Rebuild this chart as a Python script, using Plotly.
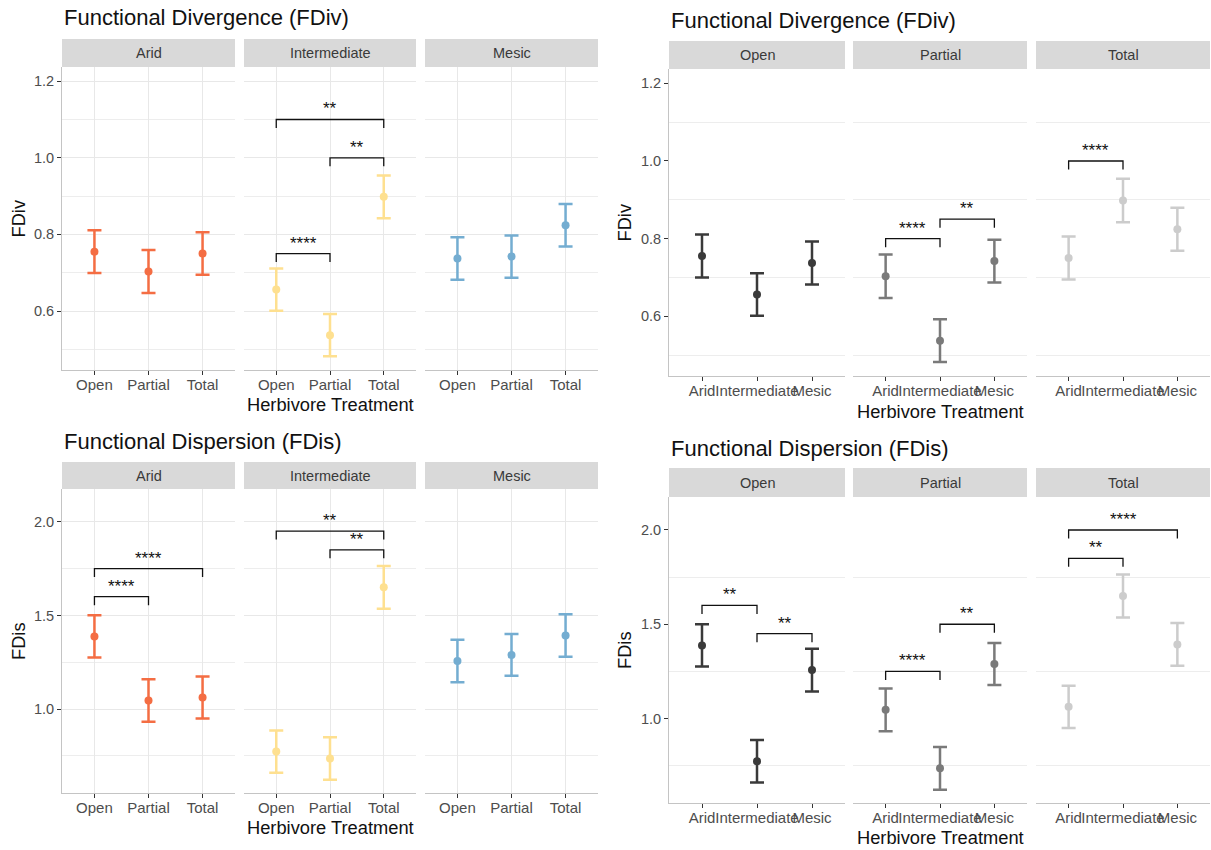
import plotly.graph_objects as go

W, H = 1211, 850

treatments = ["Open", "Partial", "Total"]
sites = ["Arid", "Intermediate", "Mesic"]

# Functional divergence: mean and error half-width per site, ordered by treatment
fdiv_arid = [0.755, 0.703, 0.750]
fdiv_intermediate = [0.656, 0.537, 0.898]
fdiv_mesic = [0.737, 0.742, 0.824]
fdiv_arid_err = [0.0555, 0.056, 0.0555]
fdiv_intermediate_err = [0.055, 0.055, 0.056]
fdiv_mesic_err = [0.0555, 0.055, 0.0555]

# Functional dispersion
fdis_arid = [1.388, 1.046, 1.062]
fdis_intermediate = [0.773, 0.736, 1.650]
fdis_mesic = [1.257, 1.289, 1.393]
fdis_arid_err = [0.1125, 0.1135, 0.1125]
fdis_intermediate_err = [0.1125, 0.1135, 0.114]
fdis_mesic_err = [0.1135, 0.1115, 0.1135]

site_colors = ["#F46D43", "#FEE090", "#74ADD1"]
treatment_greys = ["#3A3A3A", "#7A7A7A", "#CCCCCC"]

# Pairwise comparison brackets: (facet, group1, group2, bracket height, label)
fdiv_site_brackets = [
    ("Intermediate", "Open", "Total", 1.10, "**"),
    ("Intermediate", "Partial", "Total", 1.00, "**"),
    ("Intermediate", "Open", "Partial", 0.75, "****"),
]
fdiv_treatment_brackets = [
    ("Partial", "Arid", "Intermediate", 0.80, "****"),
    ("Partial", "Intermediate", "Mesic", 0.85, "**"),
    ("Total", "Arid", "Intermediate", 1.00, "****"),
]
fdis_site_brackets = [
    ("Arid", "Open", "Total", 1.75, "****"),
    ("Arid", "Open", "Partial", 1.60, "****"),
    ("Intermediate", "Open", "Total", 1.95, "**"),
    ("Intermediate", "Partial", "Total", 1.85, "**"),
]
fdis_treatment_brackets = [
    ("Open", "Arid", "Intermediate", 1.60, "**"),
    ("Open", "Intermediate", "Mesic", 1.45, "**"),
    ("Partial", "Arid", "Intermediate", 1.25, "****"),
    ("Partial", "Intermediate", "Mesic", 1.50, "**"),
    ("Total", "Arid", "Mesic", 2.00, "****"),
    ("Total", "Arid", "Intermediate", 1.85, "**"),
]

fdiv_means = [fdiv_arid, fdiv_intermediate, fdiv_mesic]
fdiv_errs = [fdiv_arid_err, fdiv_intermediate_err, fdiv_mesic_err]
fdis_means = [fdis_arid, fdis_intermediate, fdis_mesic]
fdis_errs = [fdis_arid_err, fdis_intermediate_err, fdis_mesic_err]


def by_site(means, errs):
    # facet = site, x = treatment
    return [(means[s], errs[s]) for s in range(3)]


def by_treatment(means, errs):
    # facet = treatment, x = site
    return [([means[s][t] for s in range(3)], [errs[s][t] for s in range(3)])
            for t in range(3)]


FONT = "Liberation Sans, Arial, Helvetica, sans-serif"
left_cols = [(62, 235), (244, 416), (425, 598)]
right_cols = [(669, 845), (853, 1027), (1036, 1210)]

fdiv_range = [0.446, 1.237]
fdis_range = [0.552, 2.175]

blocks = [
    dict(title="Functional Divergence (FDiv)", ylab="FDiv", cols=left_cols,
         strip=(39, 67), panel=(67, 370), title_y=18, xtitle_y=404, ytitle_x=18,
         facets=sites, xcats=treatments, colors=site_colors,
         data=by_site(fdiv_means, fdiv_errs), brackets=fdiv_site_brackets,
         yrange=fdiv_range, major=[0.6, 0.8, 1.0, 1.2], minor=[0.5, 0.7, 0.9, 1.1],
         tip=0.022, greygrid=True),
    dict(title="Functional Divergence (FDiv)", ylab="FDiv", cols=right_cols,
         strip=(41, 69), panel=(69, 376), title_y=20, xtitle_y=411, ytitle_x=624,
         facets=treatments, xcats=sites, colors=treatment_greys,
         data=by_treatment(fdiv_means, fdiv_errs), brackets=fdiv_treatment_brackets,
         yrange=fdiv_range, major=[0.6, 0.8, 1.0, 1.2], minor=[0.5, 0.7, 0.9, 1.1],
         tip=0.022, greygrid=False),
    dict(title="Functional Dispersion (FDis)", ylab="FDis", cols=left_cols,
         strip=(462, 489), panel=(489, 793), title_y=441, xtitle_y=827, ytitle_x=18,
         facets=sites, xcats=treatments, colors=site_colors,
         data=by_site(fdis_means, fdis_errs), brackets=fdis_site_brackets,
         yrange=fdis_range, major=[1.0, 1.5, 2.0], minor=[0.75, 1.25, 1.75],
         tip=0.045, greygrid=True),
    dict(title="Functional Dispersion (FDis)", ylab="FDis", cols=right_cols,
         strip=(468, 497), panel=(497, 803), title_y=448, xtitle_y=837, ytitle_x=624,
         facets=treatments, xcats=sites, colors=treatment_greys,
         data=by_treatment(fdis_means, fdis_errs), brackets=fdis_treatment_brackets,
         yrange=fdis_range, major=[1.0, 1.5, 2.0], minor=[0.75, 1.25, 1.75],
         tip=0.045, greygrid=False),
]


def fx(px):
    return px / W


def fy(py):
    return 1 - py / H


fig = go.Figure()
layout = {}
shapes = []
annotations = []
k = 0

for b in blocks:
    y0, y1 = b["panel"]
    for j, facet in enumerate(b["facets"]):
        k += 1
        xa = "x" if k == 1 else f"x{k}"
        ya = "y" if k == 1 else f"y{k}"
        xkey = "xaxis" if k == 1 else f"xaxis{k}"
        ykey = "yaxis" if k == 1 else f"yaxis{k}"
        c0, c1 = b["cols"][j]
        first = j == 0

        layout[xkey] = dict(
            domain=[fx(c0), fx(c1)], anchor=ya, type="category",
            categoryorder="array", categoryarray=b["xcats"], range=[-0.6, 2.6],
            showgrid=b["greygrid"], gridcolor="#E8E8E8", gridwidth=1.3,
            showline=True, linecolor="#C4C4C4", linewidth=1,
            ticks="outside", ticklen=4, tickcolor="#333333", tickwidth=1.1,
            ticklabelstandoff=-3,
            tickangle=0, tickfont=dict(family=FONT, size=15, color="#4D4D4D"),
            zeroline=False, fixedrange=True,
        )
        layout[ykey] = dict(
            domain=[fy(y1), fy(y0)], anchor=xa, range=b["yrange"],
            tickvals=b["major"], tickformat=".1f",
            showgrid=b["greygrid"], gridcolor="#E8E8E8", gridwidth=1.3,
            minor=dict(tickvals=b["minor"], showgrid=True, gridcolor="#EDEDED",
                       gridwidth=1, ticks=""),
            showline=first, linecolor="#C4C4C4", linewidth=1,
            ticks="outside" if first else "", ticklen=4, tickcolor="#333333",
            tickwidth=1.1, showticklabels=first,
            tickfont=dict(family=FONT, size=14.5, color="#4D4D4D"),
            zeroline=False, fixedrange=True,
        )

        means, errs = b["data"][j]
        color = b["colors"][j]
        fig.add_trace(go.Scatter(
            x=b["xcats"], y=means, mode="markers",
            marker=dict(color=color, size=8),
            error_y=dict(type="data", array=errs, visible=True, color=color,
                         thickness=2.5, width=7),
            xaxis=xa, yaxis=ya, showlegend=False, hoverinfo="x+y",
        ))

        for (bf, g1, g2, yb, lab) in b["brackets"]:
            if bf != facet:
                continue
            fig.add_trace(go.Scatter(
                x=[g1, g1, g2, g2], y=[yb - b["tip"], yb, yb, yb - b["tip"]],
                mode="lines", line=dict(color="#111111", width=1.3),
                xaxis=xa, yaxis=ya, showlegend=False, hoverinfo="skip",
            ))
            mid = (b["xcats"].index(g1) + b["xcats"].index(g2)) / 2
            annotations.append(dict(
                x=mid, y=yb, xref=xa, yref=ya, text=lab, showarrow=False,
                yanchor="bottom", xanchor="center", yshift=-1,
                font=dict(family=FONT, size=17, color="#111111"),
            ))

        # facet strip
        s0, s1 = b["strip"]
        shapes.append(dict(type="rect", xref="paper", yref="paper",
                           x0=fx(c0), x1=fx(c1), y0=fy(s1), y1=fy(s0),
                           fillcolor="#D9D9D9", line=dict(width=0), layer="below"))
        annotations.append(dict(
            x=fx((c0 + c1) / 2), y=fy((s0 + s1) / 2), xref="paper", yref="paper",
            text=facet, showarrow=False, xanchor="center", yanchor="middle",
            font=dict(family=FONT, size=14.5, color="#3A3A3A"),
        ))

    # block title
    annotations.append(dict(
        x=fx(b["cols"][0][0]), y=fy(b["title_y"]), xref="paper", yref="paper",
        text=b["title"], showarrow=False, xanchor="left", yanchor="middle",
        font=dict(family=FONT, size=22, color="#111111"),
    ))
    # x axis title
    mid_col = b["cols"][1]
    annotations.append(dict(
        x=fx((mid_col[0] + mid_col[1]) / 2), y=fy(b["xtitle_y"]),
        xref="paper", yref="paper", text="Herbivore Treatment", showarrow=False,
        xanchor="center", yanchor="middle",
        font=dict(family=FONT, size=18.3, color="#111111"),
    ))
    # y axis title
    annotations.append(dict(
        x=fx(b["ytitle_x"]), y=fy((y0 + y1) / 2), xref="paper", yref="paper",
        text=b["ylab"], showarrow=False, textangle=-90,
        xanchor="center", yanchor="middle",
        font=dict(family=FONT, size=18.3, color="#111111"),
    ))

fig.update_layout(
    width=W, height=H, margin=dict(l=0, r=0, t=0, b=0),
    paper_bgcolor="white", plot_bgcolor="white",
    shapes=shapes, annotations=annotations, showlegend=False,
    font=dict(family=FONT),
    **layout,
)

fig.write_html("out.html")
